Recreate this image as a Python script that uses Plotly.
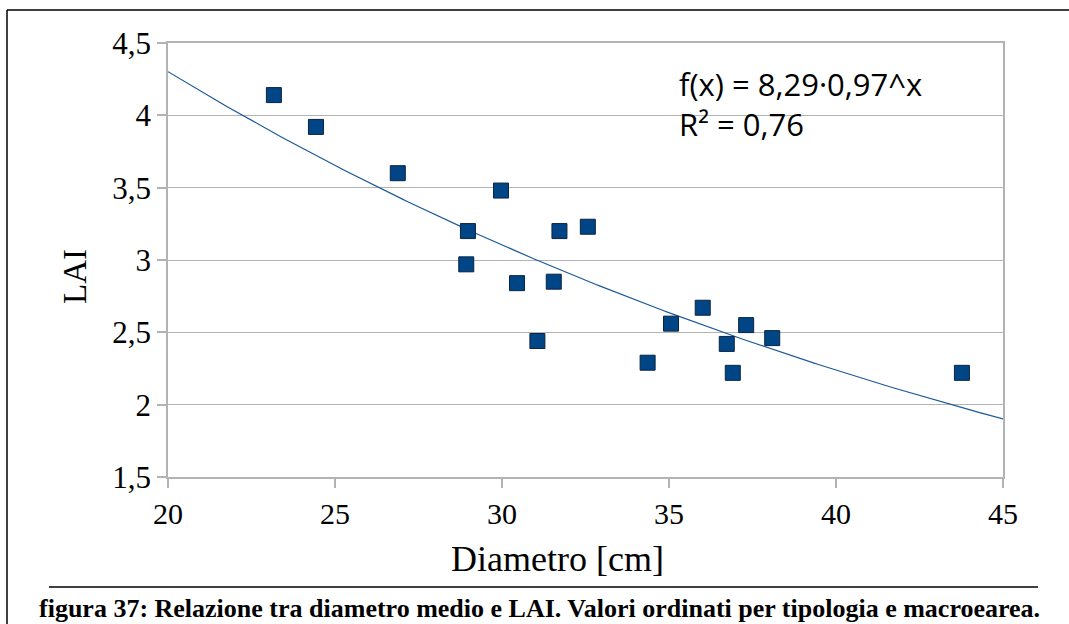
import numpy as np
import plotly.graph_objects as go

diametro = [23.17, 24.43, 26.88, 29.97, 28.98, 31.72, 32.57, 28.93, 30.45, 31.55,
            31.06, 34.36, 35.06, 36.01, 36.73, 36.91, 37.31, 38.09, 43.77]
lai = [4.14, 3.92, 3.60, 3.48, 3.20, 3.20, 3.23, 2.97, 2.84, 2.85,
       2.44, 2.29, 2.56, 2.67, 2.42, 2.22, 2.55, 2.46, 2.22]

x_range = [20, 45]
y_range = [1.5, 4.5]
x_ticks = [20, 25, 30, 35, 40, 45]
x_tick_labels = ["20", "25", "30", "35", "40", "45"]
y_ticks = [1.5, 2, 2.5, 3, 3.5, 4, 4.5]
y_tick_labels = ["1,5", "2", "2,5", "3", "3,5", "4", "4,5"]
equation = "f(x) = 8,29·0,97^x"
r2_text = "R² = 0,76"
caption = "figura 37: Relazione tra diametro medio e LAI. Valori ordinati per tipologia e macroearea."

# exponential regression y = a*b^x (log-linear least squares)
slope, intercept = np.polyfit(np.array(diametro), np.log(np.array(lai)), 1)
tx = np.linspace(x_range[0], x_range[1], 200)
ty = np.exp(intercept) * np.exp(slope * tx)

W, H = 1069, 624
L, R, T, B = 168, 66, 43, 147
pw, ph = W - L - R, H - T - B

def px(xp):
    return (xp - L) / pw

def py(yp):
    return (H - B - yp) / ph

fig = go.Figure()
fig.add_trace(go.Scatter(x=tx, y=ty, mode="lines",
                         line=dict(color="#1b5a9a", width=1.2),
                         hoverinfo="skip", showlegend=False))
fig.add_trace(go.Scatter(x=diametro, y=lai, mode="markers",
                         marker=dict(symbol="square", size=15, color="#004586",
                                     line=dict(color="#0b2440", width=1)),
                         showlegend=False))

serif = "Liberation Serif"
fig.update_layout(
    width=W, height=H,
    margin=dict(l=L, r=R, t=T, b=B),
    paper_bgcolor="white", plot_bgcolor="white",
    separators=", ",
    font=dict(family=serif, color="black", size=30),
)
fig.update_xaxes(range=x_range, tickmode="array", tickvals=x_ticks, ticktext=x_tick_labels,
                 showgrid=False, showline=True, linecolor="#b3b3b3", linewidth=1.5, mirror=True,
                 ticks="outside", ticklen=9, tickcolor="#b3b3b3", tickwidth=1.5,
                 tickfont_family=serif, tickfont_size=30, tickfont_color="black",
                 zeroline=False)
fig.update_yaxes(range=y_range, tickmode="array", tickvals=y_ticks, ticktext=y_tick_labels,
                 showgrid=True, gridcolor="#b3b3b3", gridwidth=1.2,
                 showline=True, linecolor="#b3b3b3", linewidth=1.5, mirror=True,
                 ticks="outside", ticklen=9, tickcolor="#b3b3b3", tickwidth=1.5,
                 tickfont_family=serif, tickfont_size=31, tickfont_color="black",
                 zeroline=False)

annotations = [
    dict(text="Diametro [cm]", x=px(557), y=py(559), xref="paper", yref="paper",
         showarrow=False, font=dict(family=serif, size=36, color="black"),
         xanchor="center", yanchor="middle"),
    dict(text="LAI", x=px(75), y=py(277), xref="paper", yref="paper",
         showarrow=False, textangle=-90, font=dict(family=serif, size=33, color="black"),
         xanchor="center", yanchor="middle"),
    dict(text=equation, x=px(677), y=py(84), xref="paper", yref="paper",
         showarrow=False, font=dict(family="Open Sans", size=31, color="black"),
         xanchor="left", yanchor="middle"),
    dict(text=r2_text, x=px(677), y=py(124), xref="paper", yref="paper",
         showarrow=False, font=dict(family="Open Sans", size=31, color="black"),
         xanchor="left", yanchor="middle"),
    dict(text="<b>" + caption + "</b>", x=px(539), y=py(608), xref="paper", yref="paper",
         showarrow=False, font=dict(family=serif, size=26, color="black"),
         xanchor="center", yanchor="middle"),
]
fig.update_layout(annotations=annotations)

shapes = [
    dict(type="line", xref="paper", yref="paper", x0=px(7), x1=px(1075), y0=py(10), y1=py(10),
         line=dict(color="black", width=1.5)),
    dict(type="line", xref="paper", yref="paper", x0=px(7), x1=px(7), y0=py(10), y1=py(630),
         line=dict(color="black", width=1.5)),
    dict(type="line", xref="paper", yref="paper", x0=px(49), x1=px(1038), y0=py(587), y1=py(587),
         line=dict(color="black", width=1.5)),
]
fig.update_layout(shapes=shapes)

fig.write_html("out.html")
